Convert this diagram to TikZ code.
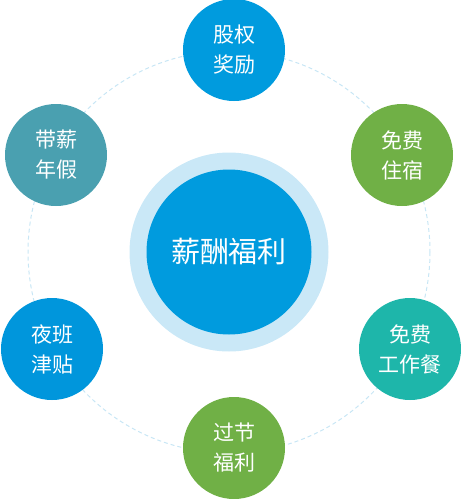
\documentclass[tikz,border=0pt]{standalone}
\usepackage{fontspec}
\newfontfamily\cjk{Noto Sans CJK SC}
\usepackage{xcolor}

\begin{document}
\begin{tikzpicture}[x=1pt, y=-1pt,
    benefit/.style={circle, minimum size=102pt, inner sep=0pt, align=center,
        text=white, font=\cjk\fontsize{21}{30}\selectfont}]

% --- COLOURS ---
\definecolor{coreblue}{RGB}{0, 155, 222}    % Blue (core + equity)
\definecolor{ringblue}{RGB}{202, 232, 247}  % Pale blue ring
\definecolor{orbitblue}{RGB}{200, 230, 245} % Dashed orbit
\definecolor{greyteal}{RGB}{74, 160, 176}   % Paid leave
\definecolor{leafgreen}{RGB}{112, 176, 70}  % Green
\definecolor{seateal}{RGB}{30, 182, 170}    % Teal (meals)
\definecolor{nightblue}{RGB}{0, 150, 220}   % Night shift

\useasboundingbox (0,0) rectangle (461,499);

% --- ORBIT ---
\draw[orbitblue, line width=1pt, dash pattern=on 4pt off 3pt] (229,252) circle (201);

% --- CENTRE ---
\node[circle, fill=ringblue, minimum size=199pt] (ring) at (229,252) {};
\node[circle, fill=coreblue, minimum size=165pt, text=white,
      font=\cjk\fontsize{29}{34}\selectfont] (core) at (229,252) {薪酬福利};

% --- BENEFITS ---
\node[benefit, fill=coreblue]  (equity)  at (234,50)  {股权\\奖励};
\node[benefit, fill=leafgreen] (housing) at (402,155) {免费\\住宿};
\node[benefit, fill=seateal]   (meals)   at (410,349) {免费\\工作餐};
\node[benefit, fill=leafgreen] (holiday) at (234,448) {过节\\福利};
\node[benefit, fill=nightblue] (night)   at (52,349)  {夜班\\津贴};
\node[benefit, fill=greyteal]  (leave)   at (56,155)  {带薪\\年假};

\end{tikzpicture}
\end{document}
